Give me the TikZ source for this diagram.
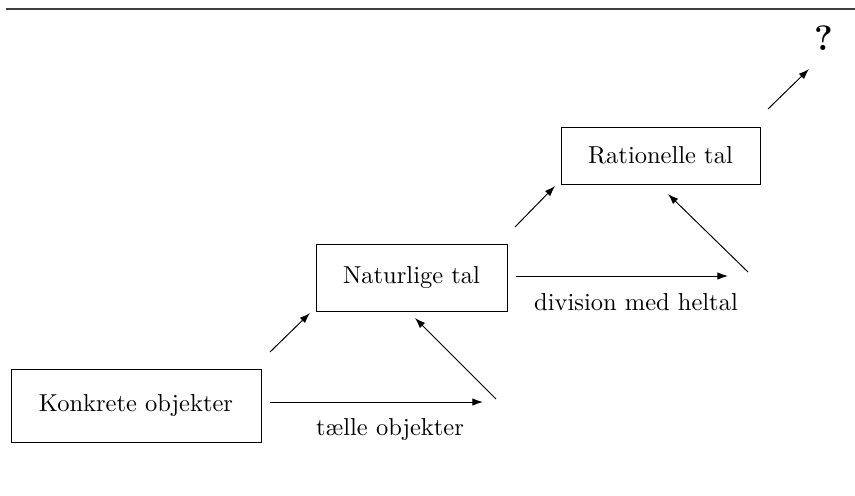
\documentclass[tikz,border=0pt]{standalone}
\usetikzlibrary{arrows.meta}
\begin{document}
\begin{tikzpicture}[x=0.4082pt, y=-0.4082pt,
  box/.style={draw, line width=0.4pt, inner sep=0pt, font=\normalsize},
  conn/.style={-{Latex[length=4.3pt,width=3pt]}, line width=0.4pt},
  lbl/.style={inner sep=0pt, font=\normalsize}]
\useasboundingbox (0,0) rectangle (855,495);
\coordinate (r1) at (6,9);
\coordinate (r2) at (855,9);
\draw[line width=0.5pt, black!75] (r1) -- (r2);

\node[box, minimum width=102.05pt, minimum height=29.8pt] (konk) at (136,405.5) {Konkrete objekter};
\node[box, minimum width=77.97pt, minimum height=27.35pt] (nat) at (411.5,277.5) {Naturlige tal};
\node[box, minimum width=81.23pt, minimum height=23.27pt] (rat) at (660.5,155.5) {Rationelle tal};

\coordinate (a1s) at (270,402);
\coordinate (a1e) at (483,402);
\draw[conn] (a1s) -- (a1e);
\node[lbl] (l1) at (390,429) {tælle objekter};

\coordinate (d1s) at (496,399);
\coordinate (d1e) at (415,318);
\draw[conn] (d1s) -- (d1e);

\coordinate (u1s) at (270,352);
\coordinate (u1e) at (310,313);
\draw[conn] (u1s) -- (u1e);

\coordinate (a2s) at (516,276);
\coordinate (a2e) at (728,276);
\draw[conn] (a2s) -- (a2e);
\node[lbl] (l2) at (636,302) {division med heltal};

\coordinate (u2s) at (515,227);
\coordinate (u2e) at (555,186);
\draw[conn] (u2s) -- (u2e);

\coordinate (d2s) at (748,272);
\coordinate (d2e) at (668,194);
\draw[conn] (d2s) -- (d2e);

\coordinate (u3s) at (768,109);
\coordinate (u3e) at (809,69);
\draw[conn] (u3s) -- (u3e);

\node[lbl, font=\Large\bfseries] (q) at (824,38) {?};
\end{tikzpicture}
\end{document}
